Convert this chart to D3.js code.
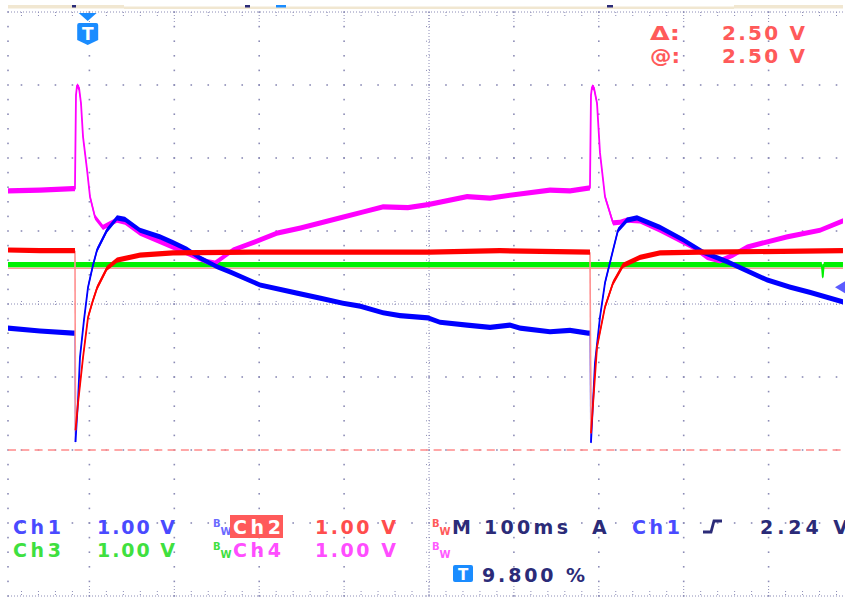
<!DOCTYPE html>
<html>
<head>
<meta charset="utf-8">
<script src="https://cdn.jsdelivr.net/npm/d3@7"></script>
<style>
body { margin: 0; background: #fff; }
svg { display: block; }
text { font-family: "DejaVu Sans", sans-serif; font-weight: bold; }
</style>
</head>
<body>
<svg id="scope"></svg>
<script>
// Time in ms (100 ms/div), level in screen divisions (1.00 V/div).
// A null level marks a break in the trace (fast edge drawn as a thin line).
const timeRange = [0, 1000];
const levelRange = [-4, 4];

const ch1 = [[4.1,-0.33],[41.8,-0.37],[80.7,-0.40],[83.0,-0.40],[83.3,null],[83.6,-1.89],[86.6,-1.32],[88.9,-0.73],
  [93.6,-0.22],[98.4,0.23],[104.2,0.53],[109.0,0.74],[120.7,1.01],[132.5,1.18],[141.9,1.16],[159.6,1.01],[183.2,0.92],
  [198.5,0.84],[215.0,0.75],[230.3,0.63],[250.3,0.51],[265.6,0.44],[301.0,0.26],[344.5,0.15],[371.6,0.08],[398.7,0.01],
  [418.7,-0.03],[445.8,-0.12],[465.8,-0.16],[498.8,-0.19],[512.9,-0.25],[544.8,-0.29],[571.9,-0.32],[595.4,-0.29],
  [607.2,-0.33],[642.5,-0.38],[666.1,-0.36],[687.3,-0.40],[689.6,-0.40],[690.2,null],
  [690.8,-1.90],[695.5,-0.81],[701.4,-0.18],[707.3,0.29],[716.8,0.74],[722.6,1.01],[733.2,1.15],[745.0,1.18],
  [772.1,1.05],[799.2,0.88],[822.7,0.71],[851.0,0.58],[898.1,0.33],[925.2,0.23],[948.8,0.16],[987.6,0.03]];

const ch2 = [[4.1,0.74],[41.8,0.73],[83.0,0.73],[83.3,null],[83.6,-1.73],[86.6,-1.36],[92.5,-0.73],[98.4,-0.18],
  [104.2,0.05],[109.0,0.22],[120.7,0.49],[132.5,0.60],[159.6,0.67],[198.5,0.70],[289.2,0.71],[407.0,0.71],[501.2,0.71],
  [583.6,0.73],[689.6,0.71],[690.2,null],[690.8,-1.77],[697.9,-0.59],[707.3,-0.04],[716.8,0.29],[728.5,0.53],
  [748.5,0.64],[772.1,0.70],[819.2,0.71],[987.6,0.73]];

const ch3 = [[4.1,0.54],[962.6,0.54],[963.8,0.37],[965.0,0.54],[987.6,0.54]];

const ch4 = [[4.1,1.55],[41.8,1.56],[80.7,1.58],[83.0,1.58],[84.2,2.86],[85.4,2.99],[87.8,2.96],[90.1,2.75],[92.5,2.29],
  [97.2,1.84],[100.7,1.47],[106.6,1.19],[116.0,1.05],[124.3,1.10],[132.5,1.15],[141.9,1.12],[159.6,0.97],[198.5,0.78],
  [226.7,0.64],[238.5,0.58],[247.9,0.56],[256.2,0.63],[269.1,0.74],[295.1,0.85],[321.0,0.97],[348.1,1.04],[398.7,1.19],
  [422.2,1.26],[445.8,1.33],[475.2,1.32],[498.8,1.36],[544.8,1.47],[571.9,1.45],[595.4,1.49],[642.5,1.56],[666.1,1.55],
  [689.6,1.59],[690.8,2.86],[692.0,2.97],[694.3,2.96],
  [697.9,2.75],[701.4,2.07],[707.3,1.47],[716.8,1.11],[725.0,1.12],[733.2,1.15],[748.5,1.14],[772.1,1.01],[811.0,0.78],
  [827.5,0.64],[842.8,0.59],[858.1,0.67],[874.6,0.78],[921.7,0.92],[960.6,1.01],[987.6,1.14]];

const cursorLevels = [-2.0, 0.49];   // dashed, solid
const triggerLevelMark = 0.23;
const triggerPercent = 9.8;

const channelNames = ["Ch1", "Ch2", "Ch3", "Ch4"];
const channelScales = ["1.00 V", "1.00 V", "1.00 V", "1.00 V"];
const timebaseLabel = "M 100ms";
const triggerLabels = ["A", "Ch1", "2.24 V"];
const triggerPosLabel = "9.800 %";
const cursorNames = ["\u0394:", "@:"];
const cursorValues = ["2.50 V", "2.50 V"];

const W = 854, H = 599;
const left = 8, right = 843;
const navy = "#2b2b78", gridCol = "#8c8cb6";

const svg = d3.select("#scope").attr("width", W).attr("height", H);
svg.append("defs").append("clipPath").attr("id", "screen")
  .append("rect").attr("x", 0).attr("y", 0).attr("width", 845).attr("height", H);
svg.append("defs").append("clipPath").attr("id", "plot")
  .append("rect").attr("x", left).attr("y", 12).attr("width", right - left).attr("height", 584);

const root = svg.append("g").attr("clip-path", "url(#screen)");

const x = d3.scaleLinear().domain(timeRange).range([4.5, 853.5]);
const y = d3.scaleLinear().domain(levelRange).range([596, 12]);

// ---- record bar at top
const bar = root.append("g");
[[8, 124, 5, 8.5], [124, 734, 6.5, 9], [734, 843, 5, 8.5]].forEach(s => {
  bar.append("rect").attr("x", s[0]).attr("y", s[2]).attr("width", s[1] - s[0]).attr("height", s[3] - s[2])
    .attr("fill", "#f1e7d1");
});
[[72, 4, navy], [245, 5, navy], [276, 10, "#1a8cff"], [607, 6, navy]].forEach(m => {
  bar.append("rect").attr("x", m[0]).attr("y", 5).attr("width", m[1]).attr("height", 2.5).attr("fill", m[2]);
});

// ---- graticule
const grid = root.append("g");
const minorT = d3.range(timeRange[0], timeRange[1] + 0.1, 20);
const minorV = d3.range(levelRange[0], levelRange[1] + 0.01, 0.2).map(v => +v.toFixed(2));
const majorT = d3.range(100, 1000, 100);
const majorV = d3.range(-3, 4, 1);
const inX = px => px >= left - 0.5 && px <= right;

const dots = [];
majorV.filter(v => v !== 0).forEach(v => minorT.forEach(t => { if (inX(x(t))) dots.push([x(t), y(v)]); }));
majorT.filter(t => t !== 500).forEach(t => minorV.forEach(v => dots.push([x(t), y(v)])));
minorV.forEach(v => dots.push([left, y(v)]));
grid.selectAll(".dot").data(dots).enter().append("rect")
  .attr("x", d => d[0] - 0.8).attr("y", d => d[1] - 0.8).attr("width", 1.6).attr("height", 1.6)
  .attr("fill", gridCol);

const dense = (x1, y1, x2, y2) => grid.append("line")
  .attr("x1", x1).attr("y1", y1).attr("x2", x2).attr("y2", y2)
  .attr("stroke", gridCol).attr("stroke-width", 1).attr("stroke-dasharray", "1,2");

// center axes
dense(left, y(0), right, y(0));
dense(x(500), 12, x(500), 596);
minorT.filter(t => inX(x(t))).forEach(t => dense(x(t), y(0) - 3, x(t), y(0) + 3));
minorV.forEach(v => dense(x(500) - 3, y(v), x(500) + 3, y(v)));

// top / bottom borders
dense(left, 12, right, 12);
dense(left, 596, right, 596);
minorT.filter(t => inX(x(t))).forEach(t => {
  const len = majorT.includes(t) ? 10 : 5;
  dense(x(t), 12, x(t), 12 + len);
  dense(x(t), 596 - len, x(t), 596);
});

// ---- cursors
const plot = root.append("g").attr("clip-path", "url(#plot)");
plot.append("line").attr("x1", left).attr("x2", right)
  .attr("y1", y(cursorLevels[0])).attr("y2", y(cursorLevels[0]))
  .attr("stroke", "#ff8a8a").attr("stroke-width", 1.5).attr("stroke-dasharray", "8,5.3");
plot.append("line").attr("x1", left).attr("x2", right)
  .attr("y1", y(cursorLevels[1])).attr("y2", y(cursorLevels[1]))
  .attr("stroke", "#ff9a9a").attr("stroke-width", 1.3);

// ---- traces: constant-height noise band, thin on fast edges
const band = 2.6;
const defined = d => d[1] !== null;
const area = d3.area().defined(defined)
  .x(d => x(d[0])).y0(d => y(d[1]) + band).y1(d => y(d[1]) - band);
const line = d3.line().defined(defined).x(d => x(d[0])).y(d => y(d[1]));

function connectors(data) {
  const out = [];
  data.forEach((d, i) => {
    if (d[1] === null && i > 0 && i < data.length - 1) out.push([data[i - 1], data[i + 1]]);
  });
  return out;
}

function drawTrace(data, colour, edgeColour) {
  const g = plot.append("g");
  g.selectAll("line").data(connectors(data)).enter().append("line")
    .attr("x1", d => x(d[0][0])).attr("y1", d => y(d[0][1]))
    .attr("x2", d => x(d[1][0])).attr("y2", d => y(d[1][1]))
    .attr("stroke", edgeColour).attr("stroke-width", 1.6);
  g.append("path").datum(data).attr("d", area).attr("fill", colour);
  g.append("path").datum(data).attr("d", line)
    .attr("fill", "none").attr("stroke", colour).attr("stroke-width", 1.8).attr("stroke-linejoin", "round");
}

drawTrace(ch3, "#00f000", "#80ff80");
drawTrace(ch4, "#ff00ff", "#ff80ff");
drawTrace(ch1, "#0000ff", "#8080ff");
drawTrace(ch2, "#ff0000", "#ff9090");

// ---- trigger markers
const tx = x(triggerPercent * 10);
root.append("path").attr("d", `M${tx - 9},13 L${tx + 9},13 L${tx},21 Z`).attr("fill", "#1a8cff");
root.append("path")
  .attr("d", `M${tx - 10.5},25 Q${tx - 10.5},23 ${tx - 8.5},23 L${tx + 8.5},23 Q${tx + 10.5},23 ${tx + 10.5},25 L${tx + 10.5},40 L${tx},45 L${tx - 10.5},40 Z`)
  .attr("fill", "#1a8cff");
root.append("text").attr("x", tx).attr("y", 40).attr("text-anchor", "middle")
  .attr("font-size", 17).attr("fill", "#fff").text("T");

const ty = y(triggerLevelMark);
root.append("path").attr("d", `M835,${ty} L845,${ty - 6} L845,${ty + 6} Z`).attr("fill", "#5c5cff");

// ---- cursor readout (top right)
const readout = root.append("g").attr("fill", "#ff5a5a").attr("font-size", 20);
cursorNames.forEach((n, i) => {
  readout.append("text").attr("x", 650).attr("y", 40 + i * 23).attr("textLength", 30)
    .attr("lengthAdjust", "spacingAndGlyphs").text(n);
  readout.append("text").attr("x", 722).attr("y", 40 + i * 23).attr("textLength", 83)
    .attr("lengthAdjust", "spacing").text(cursorValues[i]);
});

// ---- channel readout (bottom)
const info = root.append("g").attr("font-size", 19);
const txt = (s, px, py, colour, len, size) => {
  const t = info.append("text").attr("x", px).attr("y", py).attr("fill", colour).text(s);
  if (len) t.attr("textLength", len).attr("lengthAdjust", "spacing");
  if (size) t.attr("font-size", size).attr("font-weight", "normal");
  return t;
};
const bw = (px, py, colour) => {
  txt("B", px, py - 8, colour, null, 10);
  txt("W", px + 7.5, py, colour, null, 10);
};
const chColours = ["#4a4aff", "#ff4d4d", "#3fe03f", "#ff4dff"];

txt(channelNames[0], 13, 534, chColours[0], 48);
txt(channelScales[0], 97, 534, chColours[0], 78);
bw(213, 535, "#6a6aff");
info.append("rect").attr("x", 230).attr("y", 515).attr("width", 53).attr("height", 23).attr("fill", "#ff5a5a");
txt(channelNames[1], 233, 534, "#ffffff", 48);
txt(channelScales[1], 315, 534, chColours[1], 81);

txt(channelNames[2], 13, 557, chColours[2], 48);
txt(channelScales[2], 97, 557, chColours[2], 78);
bw(213, 558, "#3fe03f");
txt(channelNames[3], 233, 557, chColours[3], 48);
txt(channelScales[3], 315, 557, chColours[3], 81);

bw(432, 535, "#ff5a5a");
bw(432, 558, "#ff5aff");
txt(timebaseLabel, 452, 534, navy, 116);
txt(triggerLabels[0], 592, 534, navy);
txt(triggerLabels[1], 632, 534, chColours[0], 48);
info.append("path").attr("d", "M703,532 L711,532 L714,521 L722,521")
  .attr("fill", "none").attr("stroke", navy).attr("stroke-width", 2.8);
txt(triggerLabels[2], 760, 534, navy, 88);

info.append("rect").attr("x", 453).attr("y", 565).attr("width", 20).attr("height", 17).attr("rx", 2)
  .attr("fill", "#1a8cff");
info.append("text").attr("x", 463).attr("y", 580).attr("text-anchor", "middle").attr("font-size", 15)
  .attr("fill", "#fff").text("T");
txt(triggerPosLabel, 482, 582, navy, 103);
</script>
</body>
</html>
